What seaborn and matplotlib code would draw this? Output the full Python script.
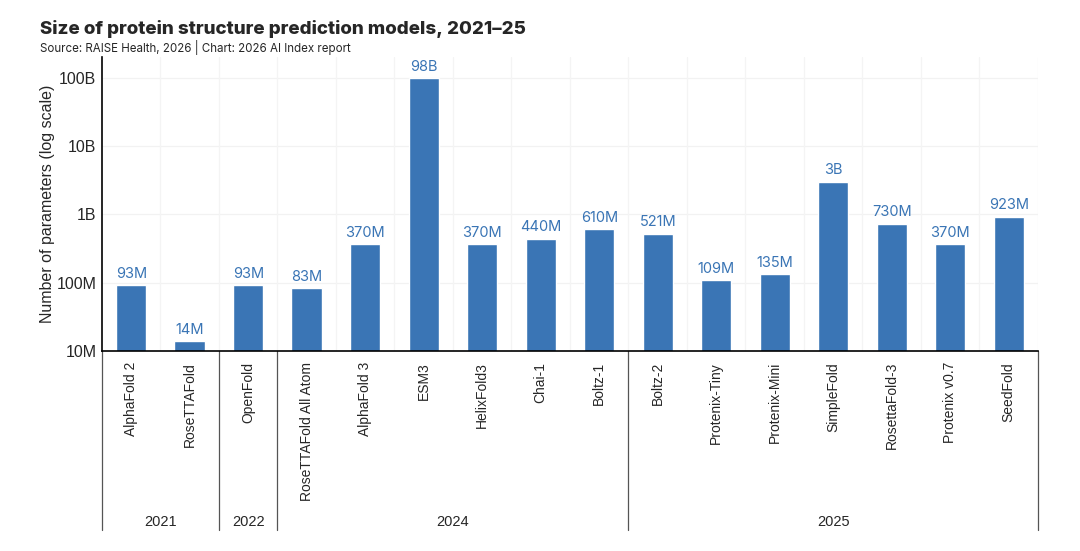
import matplotlib
matplotlib.use("Agg")
import matplotlib.pyplot as plt
import matplotlib.transforms as mtransforms
import seaborn as sns
import pandas as pd

# data
models = ["AlphaFold 2", "RoseTTAFold", "OpenFold", "RoseTTAFold All Atom", "AlphaFold 3",
          "ESM3", "HelixFold3", "Chai-1", "Boltz-1", "Boltz-2", "Protenix-Tiny",
          "Protenix-Mini", "SimpleFold", "RosettaFold-3", "Protenix v0.7", "SeedFold"]
params = [93e6, 14e6, 93e6, 83e6, 370e6, 98e9, 370e6, 440e6, 610e6, 521e6, 109e6,
          135e6, 3e9, 730e6, 370e6, 923e6]
value_labels = ["93M", "14M", "93M", "83M", "370M", "98B", "370M", "440M", "610M", "521M",
                "109M", "135M", "3B", "730M", "370M", "923M"]
years = ["2021", "2022", "2024", "2025"]
year_counts = [2, 1, 6, 7]
y_ticks = [1e7, 1e8, 1e9, 1e10, 1e11]
y_tick_labels = ["10M", "100M", "1B", "10B", "100B"]

df = pd.DataFrame({"model": models, "params": params})

sns.set_style("white")
plt.rcParams["font.family"] = ["Liberation Sans", "DejaVu Sans"]
bar_color = "#3a75b5"

fig = plt.figure(figsize=(10.8, 5.51), dpi=100)
ax = fig.add_axes([0.0944, 0.363, 0.8667, 0.5336])

sns.barplot(data=df, x="model", y="params", color=bar_color, width=0.52, saturation=1, ax=ax)
ax.set_yscale("log")
ax.set_ylim(1e7, 2e11)
ax.set_xlim(-0.5, len(models) - 0.5)

ax.bar_label(ax.containers[0], labels=value_labels, padding=3, color=bar_color,
             fontsize=10.5, family=["Inter", "DejaVu Sans"])

# faint grid: decades and category boundaries
for y in y_ticks[1:]:
    ax.axhline(y, color="#f2f2f2", lw=0.9, zorder=0)
for i in range(len(models)):
    ax.axvline(i + 0.5, color="#f4f4f4", lw=0.9, zorder=0)

ax.set_yticks(y_ticks)
ax.set_yticklabels(y_tick_labels)
ax.minorticks_off()
ax.tick_params(axis="y", length=0, pad=4, labelsize=11.5)
ax.tick_params(axis="x", length=0, pad=8, labelsize=10, rotation=90)
ax.set_xlabel("")
ax.set_ylabel("Number of parameters (log scale)", fontsize=11.5, labelpad=1)

for s in ["top", "right"]:
    ax.spines[s].set_visible(False)
for s in ["left", "bottom"]:
    ax.spines[s].set_color("black")
    ax.spines[s].set_linewidth(1.2)

# year grouping under the axis
trans = mtransforms.blended_transform_factory(ax.transData, ax.transAxes)
start = -0.5
ax.plot([start, start], [0, -0.609], transform=trans, color="#555555", lw=0.9, clip_on=False)
for yr, n in zip(years, year_counts):
    end = start + n
    ax.plot([end, end], [0, -0.609], transform=trans, color="#555555", lw=0.9, clip_on=False)
    ax.text((start + end) / 2, -0.582, yr, transform=trans, ha="center", va="center", fontsize=10.5)
    start = end

fig.text(0.037, 0.948, "Size of protein structure prediction models, 2021–25",
         fontsize=13.5, fontweight="heavy", family=["Inter", "DejaVu Sans"], va="center")
fig.text(0.037, 0.914, "Source: RAISE Health, 2026 | Chart: 2026 AI Index report",
         fontsize=8.3, family=["Inter", "DejaVu Sans"], va="center")

fig.savefig("out.png", dpi=100, facecolor="white")
